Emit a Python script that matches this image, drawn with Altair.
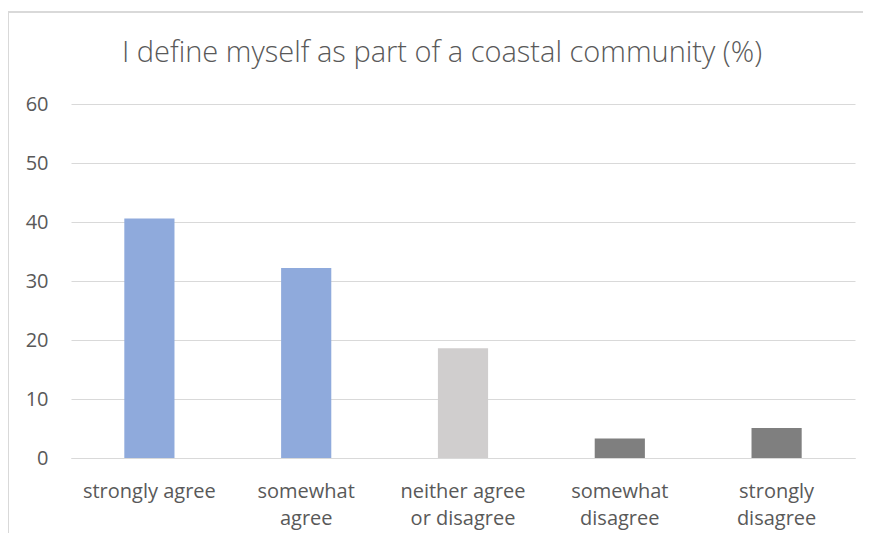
import altair as alt
import pandas as pd

categories = ["strongly agree", "somewhat|agree", "neither agree|or disagree", "somewhat|disagree", "strongly|disagree"]
values = [40.6, 32.2, 18.6, 3.3, 5.1]
bar_colors = ["#8FAADC", "#8FAADC", "#D0CECE", "#7F7F7F", "#7F7F7F"]
y_ticks = [0, 10, 20, 30, 40, 50, 60]
title_text = "I define myself as part of a coastal community (%)"

df = pd.DataFrame({"category": categories, "value": values})

bars = alt.Chart(df).mark_bar().encode(
    x=alt.X("category:N", sort=categories,
            scale=alt.Scale(paddingInner=0.68, paddingOuter=0.34),
            axis=alt.Axis(title=None, labelAngle=0, labelExpr="split(datum.label, '|')",
                          labelFontSize=20, labelColor="#595959", labelFont="Open Sans",
                          labelPadding=23, labelLineHeight=27, ticks=False,
                          domainColor="#D9D9D9", domainWidth=1, labelBaseline="top")),
    y=alt.Y("value:Q", scale=alt.Scale(domain=[0, 60]),
            axis=alt.Axis(title=None, values=y_ticks, labelFontSize=20, labelColor="#595959",
                          labelFont="Open Sans", labelPadding=23, ticks=False, domain=False,
                          gridColor="#D9D9D9", gridWidth=1)),
    color=alt.Color("category:N", sort=categories,
                    scale=alt.Scale(domain=categories, range=bar_colors), legend=None),
)

frame_left = alt.Chart(df).mark_rule(color="#D9D9D9", strokeWidth=1.5).encode(
    x=alt.value(-63), y=alt.value(-92), y2=alt.value(437))
frame_top = alt.Chart(df).mark_rule(color="#D9D9D9", strokeWidth=1.5).encode(
    x=alt.value(-63), x2=alt.value(800), y=alt.value(-92))

chart = alt.layer(bars, frame_left, frame_top).properties(
    width=784, height=354,
    autosize=alt.AutoSizeParams(type="none"),
    padding={"left": 63, "top": 96, "right": 8, "bottom": 75},
    title=alt.TitleParams(title_text, fontSize=29, font="Open Sans", fontWeight=300,
                          color="#595959", anchor="middle", dx=-21, offset=-57),
).configure_view(stroke=None)

chart.save("out.html", embed_options={"renderer": "svg", "actions": False})
